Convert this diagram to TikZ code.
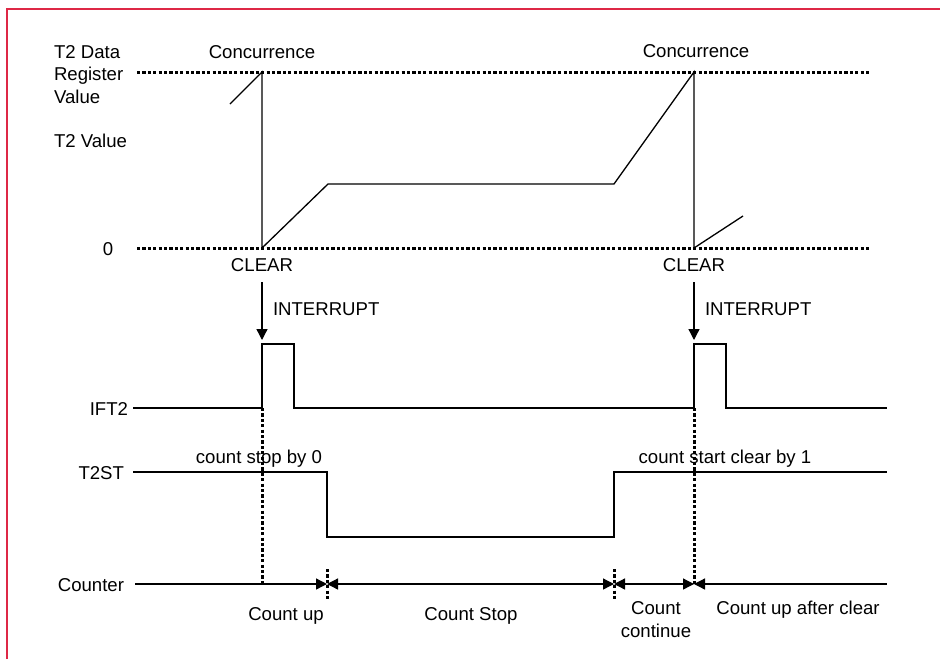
\documentclass[tikz,border=0pt]{standalone}
\usepackage{fontspec}
\setmainfont{Liberation Sans}
\usetikzlibrary{arrows.meta}
\definecolor{frameRed}{RGB}{222,40,70}
\begin{document}
\begin{tikzpicture}[x=1pt,y=-1pt,
  lbl/.style={font=\fontsize{18.6pt}{22pt}\selectfont, inner sep=0pt, outer sep=0pt},
  sig/.style={line width=1.3pt, line join=miter},
  dotline/.style={line width=3pt, dash pattern=on 3.2pt off 2.2pt},
  tipend/.style={-{Triangle[length=11pt,width=11pt]}},
  tipboth/.style={{Triangle[length=11pt,width=11pt]}-{Triangle[length=11pt,width=11pt]}},
  tipstart/.style={{Triangle[length=11pt,width=11pt]}-},
  frame/.style={frameRed, line width=1.5pt}]
\path[use as bounding box] (0,0) rectangle (940,659);
\draw[frame] (7,659) -- (7,9) -- (940,9);

% key coordinates
\coordinate (clrA) at (262,248);
\coordinate (topA) at (262,72);
\coordinate (clrB) at (694,248);
\coordinate (topB) at (694,72);

% top chart
\draw[dotline] (137,72) -- (870,72);
\draw[dotline] (137,248) -- (870,248);
\draw[sig] (230,104) -- (topA) -- (clrA) -- (328,184) -- (614,184) -- (topB) -- (clrB) -- (743,216);

\node[lbl, anchor=base west] (lab1) at (54,58) {T2 Data};
\node[lbl, anchor=base west] (lab2) at (54,80) {Register};
\node[lbl, anchor=base west] (lab3) at (54,103) {Value};
\node[lbl, anchor=base west] (lab4) at (54,147) {T2 Value};
\node[lbl, anchor=base] (lab0) at (108,255) {0};
\node[lbl, anchor=base] (concA) at (262,58) {Concurrence};
\node[lbl, anchor=base] (concB) at (696,57.5) {Concurrence};
\node[lbl, anchor=base] (clearA) at (262,271) {CLEAR};
\node[lbl, anchor=base] (clearB) at (694,271) {CLEAR};

% interrupts
\coordinate (intA0) at (262,282);
\coordinate (intA1) at (262,340);
\coordinate (intB0) at (694,282);
\coordinate (intB1) at (694,340);
\draw[sig, tipend] (intA0) -- (intA1);
\draw[sig, tipend] (intB0) -- (intB1);
\node[lbl, anchor=base west] (intlA) at (273,315) {INTERRUPT};
\node[lbl, anchor=base west] (intlB) at (705,315) {INTERRUPT};

% IFT2
\node[lbl, anchor=base east] (ift) at (128,415) {IFT2};
\draw[sig] (133,408) -- (262,408) -- (262,344) -- (294,344) -- (294,408) -- (694,408) -- (694,344) -- (726,344) -- (726,408) -- (887,408);

% T2ST
\node[lbl, anchor=base east] (t2st) at (124,479) {T2ST};
\draw[sig] (133,472) -- (327,472) -- (327,537) -- (614,537) -- (614,472) -- (887,472);
\node[lbl, anchor=base] (stopby) at (259,463) {count stop by 0};
\node[lbl, anchor=base] (startby) at (725,463) {count start clear by 1};

% Counter
\node[lbl, anchor=base east] (cnt) at (124,591) {Counter};
\coordinate (c0) at (135,584);
\coordinate (c1) at (262,584);
\coordinate (c2) at (327,584);
\coordinate (c3) at (614,584);
\coordinate (c4) at (694,584);
\coordinate (c5) at (887,584);
\draw[dotline] (262,408) -- (c1);
\draw[dotline] (694,408) -- (c4);
\draw[dotline] (327,569) -- (327,601);
\draw[dotline] (614,569) -- (614,601);
\draw[sig] (c0) -- (c1);
\draw[sig, tipend] (c1) -- (c2);
\draw[sig, tipboth] (c2) -- (c3);
\draw[sig, tipboth] (c3) -- (c4);
\draw[sig, tipstart] (c4) -- (c5);

\node[lbl, anchor=base] (cup) at (286,620) {Count up};
\node[lbl, anchor=base] (cstop) at (471,620) {Count Stop};
\node[lbl, anchor=base] (ccont1) at (656,614) {Count};
\node[lbl, anchor=base] (ccont2) at (656,637) {continue};
\node[lbl, anchor=base] (cafter) at (798,614) {Count up after clear};
\end{tikzpicture}
\end{document}
